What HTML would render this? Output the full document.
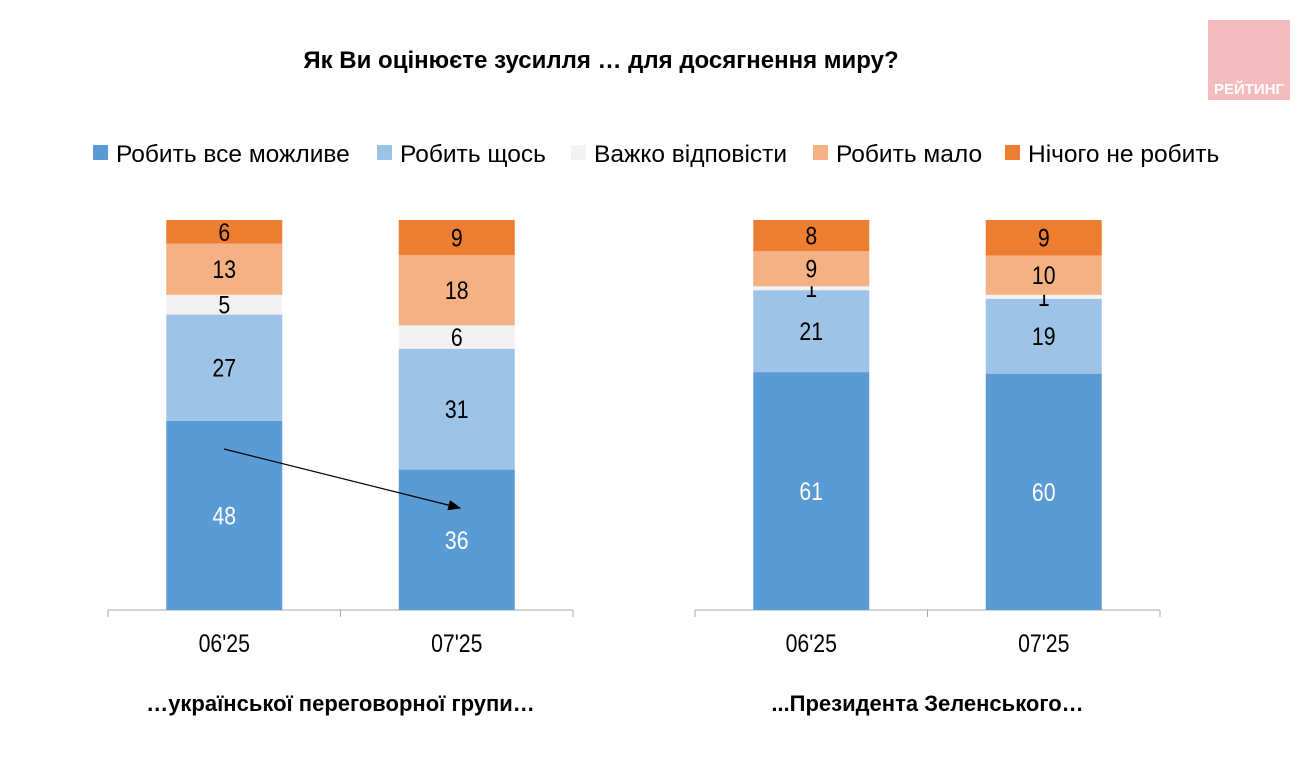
<!DOCTYPE html>
<html><head><meta charset="utf-8">
<style>
body{margin:0;background:#fff;width:1302px;height:771px;overflow:hidden;font-family:"Liberation Sans",sans-serif;}
</style></head>
<body>
<svg width="1302" height="771" xmlns="http://www.w3.org/2000/svg" id="chart">
<rect x="1208" y="20" width="82" height="80" fill="#F4BCBE"/>
<text x="1249" y="94" text-anchor="middle" font-size="15" font-weight="bold" fill="#fff">РЕЙТИНГ</text>
<text x="601" y="68" text-anchor="middle" font-size="24" font-weight="bold">Як Ви оцінюєте зусилля … для досягнення миру?</text>
<g id="legend"></g>
<g id="bars"></g>
<defs><marker id="ah" markerWidth="10" markerHeight="8" refX="9" refY="4" orient="auto"><path d="M0,0 L10,4 L0,8 z" fill="#000"/></marker></defs>
<line x1="224" y1="449" x2="460" y2="508" stroke="#000" stroke-width="1.3" marker-end="url(#ah)"/>
</svg>
<script>
const seriesNames=["Робить все можливе","Робить щось","Важко відповісти","Робить мало","Нічого не робить"];
const colors=["#5B9BD5","#9DC3E6","#F2F2F2","#F4B183","#ED7D31"];
const categories=["06'25","07'25"];
const groups=["…української переговорної групи…","...Президента Зеленського…"];
const group1=[[48,27,5,13,6],[36,31,6,18,9]];
const group2=[[61,21,1,9,8],[60,19,1,10,9]];
const NS="http://www.w3.org/2000/svg";
const svg=document.getElementById('bars');
function mk(t,a,p){const e=document.createElementNS(NS,t);for(const k in a)e.setAttribute(k,a[k]);(p||svg).appendChild(e);return e;}
const base=610,fullH=390;
const lg=document.getElementById('legend');
const lx=[93,377,571,813,1005];
seriesNames.forEach((n,i)=>{
 const r=mk('rect',{x:lx[i],y:145,width:15,height:15,fill:colors[i]},lg);
 
 
 const t=mk('text',{x:lx[i]+23,y:162,'font-size':24.5},lg);t.textContent=n;
 
 
});
function drawGroup(data,x0,gi){
 const w=465,bw=116;
 const ax=mk('line',{x1:x0,y1:base,x2:x0+w,y2:base,stroke:'#aaa','stroke-width':1});
 
 
 for(let k=0;k<=2;k++){mk('line',{x1:x0+k*w/2,y1:base,x2:x0+k*w/2,y2:base+7,stroke:'#aaa'});}
 data.forEach((vals,ci)=>{
  const cx=x0+w/4+ci*w/2;
  const tot=vals.reduce((a,b)=>a+b,0);
  const unit=fullH/tot;
  const y=v=>base-v*unit;
  let cum=0;
  vals.forEach((v,si)=>{
   const r=mk('rect',{x:cx-bw/2,y:y(cum+v),width:bw,height:v*unit,fill:colors[si]});
   
   
   const t=mk('text',{x:cx,y:y(cum+v/2)+9,'text-anchor':'middle','font-size':25,fill:si==0?'#fff':'#000',transform:`translate(${cx*0.15},0) scale(0.85,1)`});
   t.setAttribute('x',cx);
   t.textContent=v;
   
   
   cum+=v;
  });
  const c=mk('text',{x:cx,y:652,'text-anchor':'middle','font-size':25,transform:`translate(${cx*0.15},0) scale(0.85,1)`});c.textContent=categories[ci];
  
  
 });
 const g=mk('text',{x:x0+w/2,y:711,'text-anchor':'middle','font-size':22,'font-weight':'bold'});g.textContent=groups[gi];
 
 
}
drawGroup(group1,108,0);
drawGroup(group2,695,1);
</script>
</body></html>
